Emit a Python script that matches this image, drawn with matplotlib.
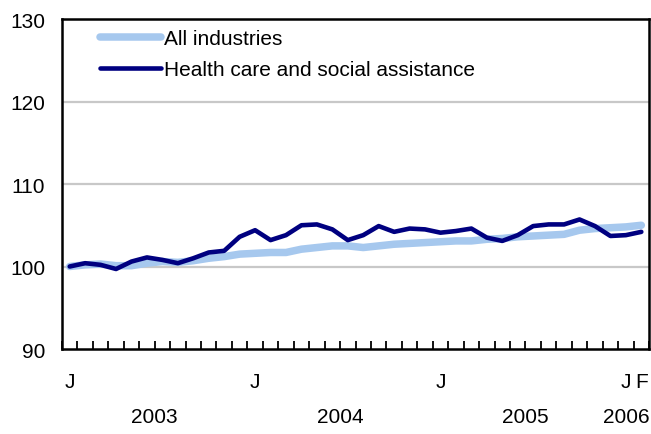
import matplotlib
matplotlib.use("Agg")
import matplotlib.pyplot as plt
import matplotlib.transforms as mtrans
import numpy as np

plt.rcParams['font.family'] = ['Liberation Sans', 'DejaVu Sans']

months = ['J', 'F', 'M', 'A', 'M', 'J', 'J', 'A', 'S', 'O', 'N', 'D'] * 3 + ['J', 'F']
all_industries = [100.0, 100.2, 100.3, 100.1, 100.1, 100.4, 100.6, 100.5, 100.7, 101.0,
                  101.2, 101.5, 101.6, 101.7, 101.7, 102.1, 102.3, 102.5, 102.5, 102.3,
                  102.5, 102.7, 102.8, 102.9, 103.0, 103.1, 103.1, 103.3, 103.4, 103.6,
                  103.7, 103.8, 103.9, 104.4, 104.6, 104.7, 104.8, 105.0]
health_care = [100.0, 100.4, 100.2, 99.7, 100.6, 101.1, 100.8, 100.4, 101.0, 101.7,
               101.9, 103.6, 104.4, 103.2, 103.8, 105.0, 105.1, 104.5, 103.2, 103.8,
               104.9, 104.2, 104.6, 104.5, 104.1, 104.3, 104.6, 103.5, 103.1, 103.8,
               104.9, 105.1, 105.1, 105.7, 104.9, 103.7, 103.8, 104.2]
month_labels = {0: 'J', 12: 'J', 24: 'J', 36: 'J', 37: 'F'}
year_labels = ['2003', '2004', '2005', '2006']
year_pos = [5.5, 17.5, 29.5, 36.05]
yticks = [90, 100, 110, 120, 130]

FS = 15

fig = plt.figure(figsize=(6.51, 4.35), dpi=100)
ax = fig.add_axes([0.0952, 0.1954, 0.9018, 0.7586])

x = np.arange(len(all_industries))
ax.plot(x, all_industries, color='#a6c8ee', lw=5.4, label='All industries',
        solid_capstyle='round', solid_joinstyle='round')
ax.plot(x, health_care, color='#000080', lw=3.3, label='Health care and social assistance',
        solid_capstyle='round', solid_joinstyle='round')

ax.set_xlim(-0.5, len(x) - 0.5)
ax.set_ylim(90, 130)
ax.set_yticks(yticks)
ax.set_yticklabels([str(v) for v in yticks], fontsize=FS)
ax.tick_params(axis='y', length=0, pad=12)
for v in yticks[1:-1]:
    ax.axhline(v, color='#c8c8c8', lw=1.6, zorder=0)

ax.set_xticks([])
ax.set_xticks(np.arange(-0.5, len(x) - 0.4, 1.0), minor=True)
ax.tick_params(axis='x', which='minor', direction='in', length=6, width=1.3, color='black')
ax.tick_params(axis='x', which='major', length=0)

for s in ax.spines.values():
    s.set_linewidth(1.8)
    s.set_color('black')

trans = mtrans.blended_transform_factory(ax.transData, ax.transAxes)
for i, lab in month_labels.items():
    ax.text(i, -0.097, lab, transform=trans, ha='center', va='center', fontsize=FS)
for p, lab in zip(year_pos, year_labels):
    ax.text(p, -0.206, lab, transform=trans, ha='center', va='center', fontsize=FS)

leg = ax.legend(loc='upper left', frameon=False, fontsize=FS, handlelength=2.9,
                handletextpad=0.15, borderaxespad=0.0, borderpad=0.0,
                bbox_to_anchor=(0.065, 0.97), labelspacing=0.6)

fig.savefig('out.png', dpi=100)
